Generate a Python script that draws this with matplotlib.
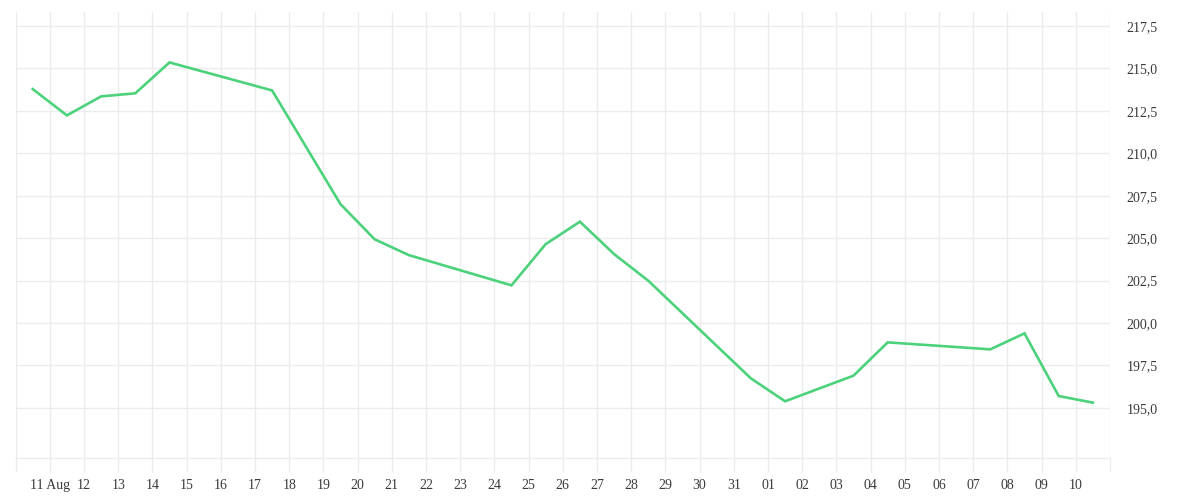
import datetime as dt

import matplotlib
matplotlib.use("Agg")
import matplotlib.pyplot as plt
from matplotlib.ticker import FuncFormatter

# daily readings (plotted at midday)
dates = [
    "2024-08-10", "2024-08-11", "2024-08-12", "2024-08-13", "2024-08-14",
    "2024-08-17", "2024-08-19", "2024-08-20", "2024-08-21", "2024-08-24",
    "2024-08-25", "2024-08-26", "2024-08-27", "2024-08-28", "2024-08-31",
    "2024-09-01", "2024-09-03", "2024-09-04", "2024-09-07", "2024-09-08",
    "2024-09-09", "2024-09-10",
]
values = [
    213.78, 212.23, 213.35, 213.53, 215.35,
    213.70, 207.00, 204.93, 204.00, 202.22,
    204.65, 205.97, 204.06, 202.49, 196.74,
    195.39, 196.90, 198.86, 198.45, 199.39,
    195.70, 195.31,
]
y_ticks = [195.0, 197.5, 200.0, 202.5, 205.0, 207.5, 210.0, 212.5, 215.0, 217.5]
x_start = "2024-08-10"
x_end = "2024-09-11"

grid_color = "#ececec"
text_color = "#3a3a3a"
line_color = "#4bd27b"

x = [dt.datetime.fromisoformat(d) + dt.timedelta(hours=12) for d in dates]
x0 = dt.datetime.fromisoformat(x_start)
x1 = dt.datetime.fromisoformat(x_end)

fig = plt.figure(figsize=(12, 5), dpi=100)
ax = fig.add_axes([0.013, 0.084, 0.912, 0.892])

ax.plot(x, values, color=line_color, lw=1.9, solid_joinstyle="miter")

ax.set_xlim(x0, x1)
ax.set_ylim(192.05, 218.32)

days = [x0 + dt.timedelta(days=i) for i in range((x1 - x0).days + 1)]
ax.set_xticks(days)

def day_label(d):
    if d == x0 or d == x1:
        return ""
    if d.day == 11 and d.month == 8:
        return "11 Aug"
    return d.strftime("%d") if d.month == 9 else str(d.day)

ax.set_xticklabels([day_label(d) for d in days])

ax.set_yticks(y_ticks)
ax.yaxis.set_major_formatter(FuncFormatter(lambda v, p: f"{v:.1f}".replace(".", ",")))
ax.yaxis.tick_right()

for s in ["top", "left", "right"]:
    ax.spines[s].set_visible(False)
ax.spines["bottom"].set_color(grid_color)
ax.spines["bottom"].set_linewidth(1)

ax.grid(True, color=grid_color, lw=1)
ax.set_axisbelow(True)

ax.tick_params(axis="x", length=10, width=1, color=grid_color, pad=5,
               labelsize=10, labelcolor=text_color)
ax.tick_params(axis="y", length=0, pad=12, labelsize=10, labelcolor=text_color)
for lab in ax.get_xticklabels() + ax.get_yticklabels():
    lab.set_fontfamily("Liberation Serif")
for lab in ax.get_yticklabels():
    lab.set_va("center_baseline")

fig.savefig("out.png", dpi=100)
